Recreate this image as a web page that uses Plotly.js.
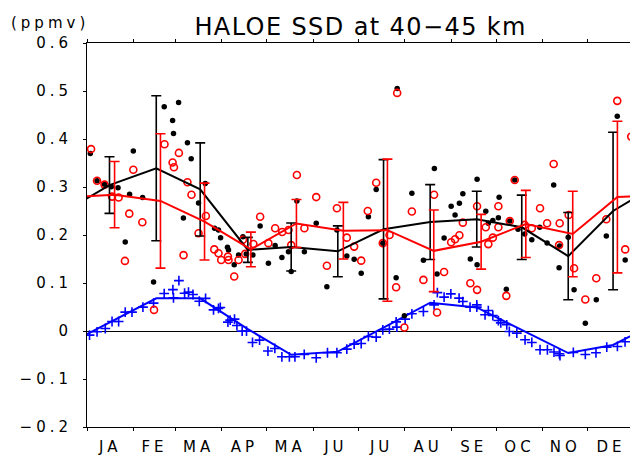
<!DOCTYPE html>
<html>
<head>
<meta charset="utf-8">
<script src="https://cdn.plot.ly/plotly-3.0.1.min.js"></script>
<style>
  html, body { margin: 0; padding: 0; background: #fff; }
  #chart { width: 630px; height: 456px; }
  .xtick text, .ytick text { letter-spacing: 4px; }
  .gtitle { letter-spacing: 1.4px; }
  .annotation-text { letter-spacing: 4px; }
</style>
</head>
<body>
<div id="chart"></div>
<script>
// ---- data ----
const monthLabels = ['JA','FE','MA','AP','MA','JU','JU','AU','SE','OC','NO','DE'];
const monthDays   = [31,28,31,30,31,30,31,31,30,31,30,31];

// monthly means (black: one data set, red: the other), day-of-year of each mean
const blackDay  = [15,46.2,75.5,107.3,136.2,167.3,197.8,228.9,260,290,321,350.9];
const blackMean = [0.304,0.339,0.295,0.169,0.175,0.166,0.212,0.227,0.233,0.216,0.156,0.250];
const blackSd   = [0.059,0.151,0.097,0.026,0.050,0.053,0.145,0.078,0.058,0.067,0.091,0.164];

const redDay  = [18.4,49,78.4,109.3,139.7,171,200.4,231.3,262.9,292.7,324,353.8];
const redMean = [0.284,0.271,0.228,0.170,0.224,0.209,0.210,0.167,0.186,0.223,0.202,0.279];
const redSd   = [0.069,0.140,0.080,0.036,0.050,0.059,0.148,0.085,0.057,0.070,0.089,0.158];

const blueMean = [0.017,0.068,0.068,0.004,-0.0495,-0.043,0.007,0.059,0.049,0.002,-0.046,-0.029];

// individual values: black dots
const dotDay = [2.2,6.7,11.7,16.2,20.7,25.5,28.4,30.9,37.1,44.4,51.5,57.1,57.7,61.1,64.3,67,69.5,74.4,78.9,85.1,87.7,89.1,93.7,94.4,98.2,101.1,104,106.2,110.7,115.5,121,125.5,130,134.4,136.2,140,145,152.9,160,166.7,173.3,178.2,182.9,187.7,192.9,197.3,206.2,206.9,211.7,216.7,224.4,231.7,233.5,238.2,242.9,245.5,248.4,250.7,255.7,260.2,260.2,266,267.7,270.7,274.4,274.9,279.7,282,285.3,287.5,292,296.7,302,306.9,311.3,314.9,315.3,321,324.9,332.4,339.7,346.4,353.7,359];
const dotVal = [0.370,0.313,0.3055,0.3005,0.2985,0.1855,0.285,0.375,0.278,0.1023,0.467,0.4386,0.4116,0.476,0.2354,0.392,0.359,0.2666,0.3075,0.214,0.2105,0.1945,0.1745,0.169,0.138,0.1585,0.1966,0.1606,0.1585,0.2188,0.141,0.178,0.153,0.165,0.124,0.271,0.165,0.2244,0.092,0.2105,0.1564,0.1495,0.1204,0.238,0.295,0.183,0.111,0.505,0.0316,0.2868,0.1474,0.3388,0.119,0.1938,0.2597,0.2417,0.266,0.286,0.150,0.316,0.138,0.2494,0.2244,0.230,0.236,0.2785,0.087,0.229,0.3145,0.212,0.202,0.19,0.216,0.1834,0.304,0.132,0.177,0.1953,0.0857,0.0164,0.0649,0.198,0.4476,0.148];

// individual values: red open circles
const circDay = [2.7,6.7,11.7,16.7,21.1,25.3,28.2,30.9,36.9,44.7,51.7,57.1,58,61.3,64.4,67,69.7,74.4,79.3,84.9,87.7,89.5,94,94.4,98.2,101.1,104,105.5,111,115.5,121,125.5,130.2,134.4,136.2,140,145,152.9,160,166.7,173.3,178.2,182.9,187.3,192.9,197.3,201.8,206.2,206.9,211.7,216.7,224.4,231.5,233.5,238.2,242.9,245.5,248.4,250.7,255.7,260.2,260.2,266,267.7,270.7,274.4,274.4,279.7,282,285.3,292,296.7,302.2,306.9,311.3,315.3,314.9,321.3,324.9,332.4,339.7,346.4,353.7,359,363];
const circVal = [0.379,0.313,0.305,0.28,0.278,0.146,0.2445,0.336,0.2265,0.044,0.389,0.351,0.341,0.371,0.158,0.31,0.284,0.2036,0.2396,0.170,0.162,0.148,0.155,0.148,0.1134,0.148,0.19,0.1606,0.1814,0.238,0.183,0.214,0.2063,0.2105,0.179,0.325,0.214,0.279,0.136,0.2556,0.1945,0.1758,0.1466,0.25,0.309,0.183,0.2,0.0913,0.496,0.0073,0.249,0.1065,0.284,0.0385,0.123,0.185,0.191,0.1994,0.2257,0.0996,0.0857,0.260,0.216,0.181,0.1945,0.216,0.260,0.0732,0.229,0.3145,0.221,0.214,0.2556,0.2244,0.348,0.2244,0.179,0.2417,0.1308,0.0655,0.11,0.2327,0.4795,0.170,0.405];

// individual values: blue crosses
const crossDay = [1.7,6.7,12.2,16.7,21.1,25.5,30,37.3,44.4,51.5,57.3,57.7,61.3,65.1,67.7,70.7,74.9,79.1,84.4,87.7,88.9,94,95.5,98.4,100,103.5,106.4,110.4,115.1,120.7,125.3,130,135,138.7,144.9,152.9,160.4,166.7,173.3,178.2,182.9,187.7,192.9,197.3,201.7,206.2,206.7,212.2,216.7,224.4,231.5,233.7,238.2,242.7,248.2,250.7,255.5,260,260,265.5,267.7,270.7,274.4,276,280,281.7,286.7,292.2,296.7,302.2,307.1,311.5,315.1,315.5,324.4,332.4,339.5,346.7,353.8,358.9];
const crossVal = [-0.0085,-0.0017,0.0052,0.0198,0.0198,0.0393,0.0393,0.0497,0.058,0.078,0.0863,0.069,0.105,0.0788,0.081,0.076,0.062,0.068,0.044,0.047,0.049,0.0185,0.0227,0.0248,0.0114,-0.0002,-0.0002,-0.0239,-0.019,-0.0418,-0.0364,-0.0537,-0.0537,-0.0537,-0.0489,-0.0557,-0.0453,-0.0453,-0.0377,-0.0273,-0.026,-0.0114,-0.0127,0.0025,0.004,0.019,0.008,0.0247,0.0358,0.0406,0.0545,0.080,0.0705,0.0774,0.0684,0.0614,0.0497,0.0545,0.0497,0.0337,0.0426,0.0322,0.0218,0.017,0.0129,-0.001,-0.0044,-0.0183,-0.0239,-0.0391,-0.0391,-0.0439,-0.0474,-0.051,-0.0447,-0.0489,-0.0453,-0.0335,-0.0322,-0.0225];

const yearLen = 365;
const title = 'HALOE SSD at 40\u221245 km';
const unitLabel = '(ppmv)';

// ---- derived axis positions (calendar) ----
const monthStart = [];
const monthMid = [];
let acc = 0;
monthDays.forEach(n => { monthStart.push(acc); monthMid.push(acc + n / 2); acc += n; });
monthStart.push(acc);

// cyclic lines: repeat December before January and January after December
function wrapX(d) { return [d[d.length - 1] - yearLen].concat(d, [d[0] + yearLen]); }
function wrapY(v) { return [v[v.length - 1]].concat(v, [v[0]]); }

const FONT = 'DejaVu Sans, Liberation Sans, sans-serif';

const traces = [
  { x: crossDay, y: crossVal, type: 'scatter', mode: 'markers', hoverinfo: 'skip',
    marker: { symbol: 'cross-thin-open', size: 7, color: '#0000ff', line: { color: '#0000ff', width: 1.6 } } },
  { x: wrapX(blackDay), y: wrapY(blueMean), type: 'scatter', mode: 'lines', hoverinfo: 'skip',
    line: { color: '#0000ff', width: 2 } },
  { x: dotDay, y: dotVal, type: 'scatter', mode: 'markers', hoverinfo: 'skip',
    marker: { symbol: 'circle', size: 5.5, color: '#000000' } },
  { x: circDay, y: circVal, type: 'scatter', mode: 'markers', hoverinfo: 'skip',
    marker: { symbol: 'circle-open', size: 7, color: '#ff0000', line: { color: '#ff0000', width: 1.6 } } },
  { x: wrapX(blackDay), y: wrapY(blackMean), type: 'scatter', mode: 'lines', hoverinfo: 'skip',
    line: { color: '#000000', width: 2 } },
  { x: blackDay, y: blackMean, type: 'scatter', mode: 'markers', hoverinfo: 'skip',
    marker: { size: 1, color: 'rgba(0,0,0,0)' },
    error_y: { type: 'data', array: blackSd, visible: true, color: '#000000', thickness: 1.6, width: 5 } },
  { x: wrapX(redDay), y: wrapY(redMean), type: 'scatter', mode: 'lines', hoverinfo: 'skip',
    line: { color: '#ff0000', width: 2 } },
  { x: redDay, y: redMean, type: 'scatter', mode: 'markers', hoverinfo: 'skip',
    marker: { size: 1, color: 'rgba(0,0,0,0)' },
    error_y: { type: 'data', array: redSd, visible: true, color: '#ff0000', thickness: 1.6, width: 5 } }
];

const layout = {
  width: 630, height: 456,
  margin: { l: 87, r: 0, t: 43, b: 29, pad: 0 },
  paper_bgcolor: '#ffffff', plot_bgcolor: '#ffffff',
  showlegend: false,
  font: { family: FONT, color: '#000000', size: 15 },
  title: {
    text: title,
    font: { family: FONT, size: 24, color: '#000000' },
    xref: 'paper', x: 0.504, xanchor: 'center',
    yref: 'container', y: 1 - 35 / 456, yanchor: 'bottom'
  },
  xaxis: {
    range: [0, 362.2],
    showgrid: false, zeroline: false,
    showline: true, linecolor: '#000000', linewidth: 1, mirror: 'ticks',
    tickmode: 'array', tickvals: monthMid, ticktext: monthLabels,
    ticks: 'outside', ticklen: 0, ticklabelstandoff: 6,
    tickfont: { family: FONT, size: 15, color: '#000000' },
    minor: { tickmode: 'array', tickvals: monthStart, ticks: 'outside', ticklen: 3, tickwidth: 1, tickcolor: '#000000', showgrid: false }
  },
  yaxis: {
    range: [-0.2, 0.6],
    tickmode: 'linear', tick0: 0, dtick: 0.1,
    showgrid: false,
    zeroline: true, zerolinecolor: '#000000', zerolinewidth: 1,
    showline: true, linecolor: '#000000', linewidth: 1,
    ticks: 'outside', ticklen: 3, tickwidth: 1, tickcolor: '#000000',
    ticklabelstandoff: 8,
    tickfont: { family: FONT, size: 15, color: '#000000' }
  },
  annotations: [{
    text: unitLabel, xref: 'paper', yref: 'paper',
    x: (50 - 87) / 543, xanchor: 'center',
    y: (427.3 - 22.5) / 384.3, yanchor: 'middle',
    showarrow: false, font: { family: FONT, size: 15, color: '#000000' }
  }]
};

Plotly.newPlot('chart', traces, layout, { staticPlot: true, displayModeBar: false });
</script>
</body>
</html>
